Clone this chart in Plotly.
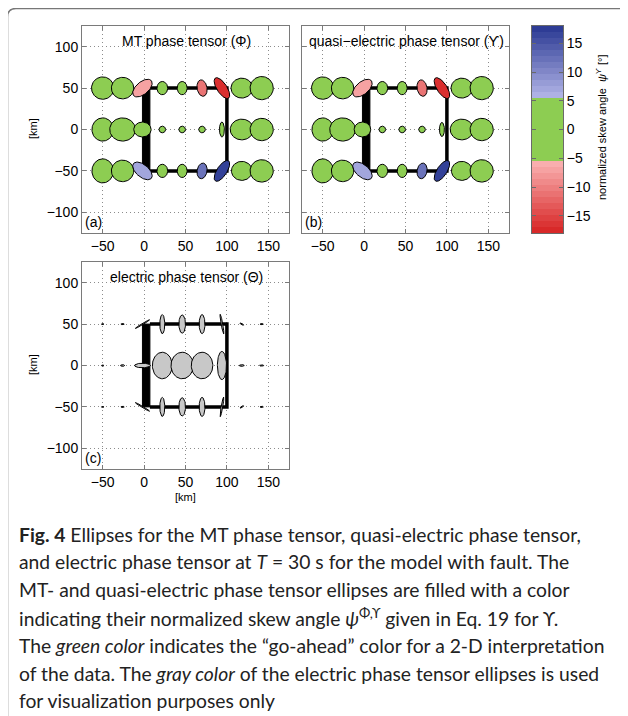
import numpy as np
import plotly.graph_objects as go

# the page body has an 8 px margin: the figure starts at (8, 8) of the window
OFF = 8
W, H = 628 - OFF, 716 - OFF

# ---------------- data ----------------
STATION_X = [-50, -26, -2, 22, 46, 70, 94, 118, 142]
ROW_Y = [50, 0, -50]

# MT phase tensor (Phi): full axis lengths [km], orientation [deg], skew [deg]
PHI_MAJOR = [
    [27, 27, 28, 16, 16, 20, 29, 26, 28],
    [28, 31, 21, 8, 8, 8, 18, 28, 28],
    [29, 27, 28, 16, 16, 19, 29, 25, 28],
]
PHI_MINOR = [
    [27, 26, 15, 13, 12, 12, 12, 24, 28],
    [26, 28, 18, 8, 8, 8, 6, 25, 27],
    [26, 26, 15, 13, 12, 12, 12, 23, 27],
]
PHI_ANGLE = [
    [0, 0, 40, 90, 90, 100, -57, 0, 0],
    [90, 0, 0, 0, 0, 0, 90, 0, 0],
    [90, 0, -40, 90, 90, 80, 57, 0, 0],
]
PHI_SKEW = [
    [0, 0, -7, 0, 0, -11, -17, 0, 0],
    [0, 0, 0, 0, 0, 0, 0, 0, 0],
    [0, 0, 7, 0, 0, 12, 17, 0, 0],
]

# quasi-electric phase tensor (Upsilon)
UPS_MAJOR = [
    [27, 27, 28, 16, 16, 20, 29, 26, 28],
    [28, 31, 20, 8, 8, 8, 17, 28, 28],
    [29, 27, 28, 16, 16, 19, 29, 25, 28],
]
UPS_MINOR = [
    [27, 26, 15, 13, 12, 12, 12, 24, 28],
    [26, 28, 18, 8, 8, 8, 6, 25, 27],
    [26, 26, 15, 13, 12, 12, 12, 23, 27],
]
UPS_ANGLE = [
    [0, 0, 40, 90, 90, 100, -57, 0, 0],
    [90, 0, 0, 0, 0, 0, 90, 0, 0],
    [90, 0, -40, 90, 90, 80, 57, 0, 0],
]
UPS_SKEW = [
    [0, 0, -7, 0, 0, -11, -17, 0, 0],
    [0, 0, 0, 0, 0, 0, 0, 0, 0],
    [0, 0, 7, 0, 0, 12, 17, 0, 0],
]

# electric phase tensor (Theta)
THE_MAJOR = [
    [3, 4, 20, 23, 22, 23, 24, 5, 4],
    [3, 5, 19, 32, 32, 32, 34, 6, 5],
    [3, 4, 20, 23, 22, 23, 24, 5, 4],
]
THE_MINOR = [
    [1.2, 1.5, 1.5, 6, 8, 7, 2, 1.5, 1.5],
    [1.2, 2, 5.5, 24, 27, 26, 11, 2, 1.5],
    [1.2, 1.5, 1.5, 6, 8, 7, 2, 1.5, 1.5],
]
THE_ANGLE = [
    [0, 0, 31, 90, 90, 90, 100, -30, 0],
    [0, 0, 0, 90, 90, 90, 90, 0, 0],
    [0, 0, -31, 90, 90, 90, 80, 30, 0],
]

# model outline: conductive fault bar and block boundary [km]
FAULT_X = [-2, 7]
FAULT_Y = [-50, 50]
BLOCK_X = [7, 100, 100, 7]
BLOCK_Y = [50, 50, -50, -50]

# colour map of the normalized skew angle
SKEW_RANGE = [-18, 18]
SKEW_GREEN = 5.4
CB_TICKS = [-15, -10, -5, 0, 5, 10, 15]

RED_DARK = (215, 35, 35)
RED_LIGHT = (250, 180, 180)
GREEN = (141, 205, 82)
BLUE_LIGHT = (180, 182, 232)
BLUE_DARK = (40, 55, 145)
GRAY = (200, 200, 200)

lo, hi = SKEW_RANGE
STOPS = [(lo, RED_DARK), (-SKEW_GREEN, RED_LIGHT), (-SKEW_GREEN, GREEN),
         (SKEW_GREEN, GREEN), (SKEW_GREEN, BLUE_LIGHT), (hi, BLUE_DARK)]


def rgb(c):
    return "rgb(%d,%d,%d)" % tuple(int(round(v)) for v in c)


def skew_color(v):
    v = min(max(v, lo), hi)
    for (v0, c0), (v1, c1) in zip(STOPS[:-1], STOPS[1:]):
        if v0 <= v <= v1 and v1 > v0:
            f = (v - v0) / (v1 - v0)
            return rgb([a + f * (b - a) for a, b in zip(c0, c1)])
    return rgb(GREEN)


COLORSCALE = [[(v - lo) / (hi - lo), rgb(c)] for v, c in STOPS]


# ---------------- layout helpers (window pixels -> paper) ----------------
def px_x(p):
    return (p - OFF) / W


def px_y(p):
    return 1 - (p - OFF) / H


PANELS = {
    "a": dict(x=(82, 289), y=(26, 233)),
    "b": dict(x=(302, 509), y=(26, 233)),
    "c": dict(x=(82, 289), y=(262, 469)),
}

fig = go.Figure()


def ellipse(cx, cy, d1, d2, ang):
    t = np.linspace(0, 2 * np.pi, 73)
    a, b = d1 / 2.0, d2 / 2.0
    th = np.deg2rad(ang)
    x = cx + a * np.cos(t) * np.cos(th) - b * np.sin(t) * np.sin(th)
    y = cy + a * np.cos(t) * np.sin(th) + b * np.sin(t) * np.cos(th)
    return x, y


def draw_model(xa, ya):
    fx = [FAULT_X[0], FAULT_X[1], FAULT_X[1], FAULT_X[0], FAULT_X[0]]
    fy = [FAULT_Y[0], FAULT_Y[0], FAULT_Y[1], FAULT_Y[1], FAULT_Y[0]]
    fig.add_trace(go.Scatter(x=fx, y=fy, mode="lines", fill="toself",
                             fillcolor="black", line=dict(color="black", width=1),
                             xaxis=xa, yaxis=ya, showlegend=False, hoverinfo="skip"))
    fig.add_trace(go.Scatter(x=BLOCK_X, y=BLOCK_Y, mode="lines",
                             line=dict(color="black", width=3.5),
                             xaxis=xa, yaxis=ya, showlegend=False, hoverinfo="skip"))


def draw_ellipses(xa, ya, major, minor, angle, colors):
    for r, cy in enumerate(ROW_Y):
        for i, cx in enumerate(STATION_X):
            ex, ey = ellipse(cx, cy, major[r][i], minor[r][i], angle[r][i])
            fig.add_trace(go.Scatter(x=ex, y=ey, mode="lines", fill="toself",
                                     fillcolor=colors[r][i],
                                     line=dict(color="black", width=1),
                                     xaxis=xa, yaxis=ya, showlegend=False,
                                     hoverinfo="skip"))


phi_cols = [[skew_color(s) for s in row] for row in PHI_SKEW]
ups_cols = [[skew_color(s) for s in row] for row in UPS_SKEW]
the_cols = [[rgb(GRAY) for _ in row] for row in THE_MAJOR]

draw_model("x", "y")
draw_ellipses("x", "y", PHI_MAJOR, PHI_MINOR, PHI_ANGLE, phi_cols)
draw_model("x2", "y2")
draw_ellipses("x2", "y2", UPS_MAJOR, UPS_MINOR, UPS_ANGLE, ups_cols)
draw_model("x3", "y3")
draw_ellipses("x3", "y3", THE_MAJOR, THE_MINOR, THE_ANGLE, the_cols)

# colour bar as a heatmap
neg = np.linspace(lo, -SKEW_GREEN, 13)
pos = np.linspace(SKEW_GREEN, hi, 13)
edges = np.concatenate([neg, pos])
mids = (edges[:-1] + edges[1:]) / 2
zvals = [[m] for m in mids]
fig.add_trace(go.Heatmap(z=zvals, x=[0, 1], y=edges, colorscale=COLORSCALE,
                         zmin=lo, zmax=hi, showscale=False, hoverinfo="skip",
                         xaxis="x4", yaxis="y4"))

TICKFONT = dict(family="Liberation Sans, Arial, sans-serif", size=14, color="black")
AX_COMMON = dict(showgrid=True, gridcolor="#8c8c8c", griddash="1px,3px", gridwidth=1,
                 zeroline=False, showline=True, linecolor="#7a7a7a", linewidth=1,
                 mirror="ticks", ticks="inside", ticklen=4, tickcolor="#7a7a7a",
                 tickfont=TICKFONT, fixedrange=True)

XT = [-50, 0, 50, 100, 150]
YT = [-100, -50, 0, 50, 100]
layout_axes = {}
for k, (name, p) in enumerate(PANELS.items()):
    sfx = "" if k == 0 else str(k + 1)
    layout_axes["xaxis" + sfx] = dict(
        AX_COMMON, domain=[px_x(p["x"][0]), px_x(p["x"][1])], range=[-75, 175],
        tickvals=XT, anchor="y" + sfx)
    layout_axes["yaxis" + sfx] = dict(
        AX_COMMON, domain=[px_y(p["y"][1]), px_y(p["y"][0])], range=[-125, 125],
        tickvals=YT, anchor="x" + sfx, showticklabels=(name != "b"))

layout_axes["xaxis4"] = dict(domain=[px_x(532), px_x(563)], range=[0, 1],
                             showgrid=False, zeroline=False, showticklabels=False,
                             showline=True, linecolor="#6a6a6a", mirror=True,
                             ticks="", anchor="y4", fixedrange=True)
layout_axes["yaxis4"] = dict(domain=[px_y(233), px_y(26)], range=[lo, hi],
                             side="right", tickvals=CB_TICKS, showgrid=False,
                             zeroline=False, showline=True, linecolor="#6a6a6a",
                             mirror="ticks", ticks="inside", ticklen=4,
                             tickcolor="#6a6a6a", tickfont=TICKFONT, anchor="x4",
                             fixedrange=True)

fig.update_layout(width=W, height=H, margin=dict(l=0, r=0, t=0, b=0),
                  paper_bgcolor="white", plot_bgcolor="white", **layout_axes)

ANN_FONT = "Liberation Sans, Arial, sans-serif"
anns = []
# panel titles and labels (data coordinates)
titles = [("x", "y", "MT phase tensor (Φ)"),
          ("x2", "y2", "quasi−electric phase tensor (ϒ)"),
          ("x3", "y3", "electric phase tensor (Θ)")]
for xa, ya, txt in titles:
    anns.append(dict(x=51, y=107, xref=xa, yref=ya, text=txt, showarrow=False,
                     xanchor="center", yanchor="middle",
                     font=dict(family=ANN_FONT, size=14, color="black")))
for xa, ya, lab in [("x", "y", "(a)"), ("x2", "y2", "(b)"), ("x3", "y3", "(c)")]:
    anns.append(dict(x=-74, y=-112, xref=xa, yref=ya, text=lab, showarrow=False,
                     xanchor="left", yanchor="middle",
                     font=dict(family=ANN_FONT, size=14, color="black")))
# axis titles
for ypx in [129, 365]:
    anns.append(dict(x=px_x(33), y=px_y(ypx), xref="paper", yref="paper",
                     text="[km]", textangle=-90, showarrow=False,
                     xanchor="center", yanchor="middle",
                     font=dict(family=ANN_FONT, size=11, color="black")))
anns.append(dict(x=px_x(185), y=px_y(497), xref="paper", yref="paper",
                 text="[km]", showarrow=False, xanchor="center", yanchor="middle",
                 font=dict(family=ANN_FONT, size=11, color="black")))
anns.append(dict(x=px_x(601), y=px_y(127), xref="paper", yref="paper",
                 text="normalized skew angle  <i>ψ</i><sup>ϒ</sup> [°]",
                 textangle=-90, showarrow=False, xanchor="center", yanchor="middle",
                 font=dict(family=ANN_FONT, size=11, color="black")))

CAPTION = [
    "<b>Fig. 4</b> Ellipses for the MT phase tensor, quasi-electric phase tensor,",
    "and electric phase tensor at <i>T</i> = 30 s for the model with fault. The",
    "MT- and quasi-electric phase tensor ellipses are filled with a color",
    "indicating their normalized skew angle <i>ψ</i><sup>Φ,ϒ</sup> given in Eq. 19 for ϒ.",
    "The <i>green color</i> indicates the “go-ahead” color for a 2-D interpretation",
    "of the data. The <i>gray color</i> of the electric phase tensor ellipses is used",
    "for visualization purposes only",
]
for i, line in enumerate(CAPTION):
    anns.append(dict(x=px_x(17), y=px_y(534 + 27.8 * i), xref="paper", yref="paper",
                     text=line, showarrow=False, xanchor="left", yanchor="middle",
                     font=dict(family="Lato, sans-serif", size=19.3, color="#222")))
fig.update_layout(annotations=anns)

# page frame
frame = "M %f,%f L %f,%f Q %f,%f %f,%f L %f,%f" % (
    px_x(640), px_y(8.5), px_x(16), px_y(8.5), px_x(7.5), px_y(8.5), px_x(7.5),
    px_y(17), px_x(7.5), px_y(730))
fig.update_layout(shapes=[dict(type="path", path=frame, xref="paper", yref="paper",
                               line=dict(color="#777", width=1.5))])

fig.write_html("out.html")
